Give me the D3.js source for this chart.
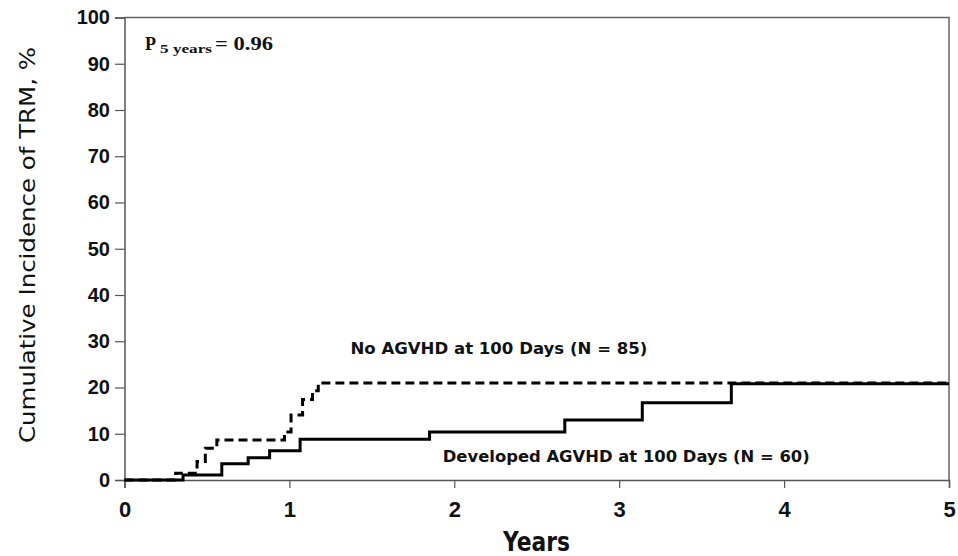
<!DOCTYPE html>
<html>
<head>
<meta charset="utf-8">
<style>
  body { margin: 0; background: #fff; }
  text { fill: #111; }
</style>
<title>Cumulative Incidence of TRM</title>
</head>
<body>
<script src="https://cdn.jsdelivr.net/npm/d3@7/dist/d3.min.js"></script>
<script>
  // data (years, %)
  var noTimes = [0, 0.31, 0.44, 0.49, 0.56, 0.97, 1.01, 1.08, 1.14, 1.175, 5];
  var noVals  = [0, 1.45, 4.0, 6.85, 8.65, 10.4, 14.05, 17.4, 19.3, 21.0, 21.0];

  var devTimes = [0, 0.355, 0.59, 0.75, 0.88, 1.065, 1.85, 2.67, 3.14, 3.68, 5];
  var devVals  = [0, 1.1, 3.5, 4.8, 6.3, 8.8, 10.4, 13.0, 16.7, 20.8, 20.8];

  var xTicks = [0, 1, 2, 3, 4, 5];
  var yTicks = [0, 10, 20, 30, 40, 50, 60, 70, 80, 90, 100];

  var margin = {top: 17.5, right: 9, bottom: 76, left: 124.5};
  var W = 958, H = 556;
  var width = W - margin.left - margin.right,
      height = H - margin.top - margin.bottom;

  var x = d3.scaleLinear().domain([0, 5]).range([0, width]);
  var y = d3.scaleLinear().domain([0, 100]).range([height, 0]);

  var svg = d3.select("body").append("svg")
      .attr("width", W).attr("height", H)
      .style("font-family", "'DejaVu Sans', Verdana, sans-serif");

  var g = svg.append("g")
      .attr("transform", "translate(" + margin.left + "," + margin.top + ")");

  // frame (top and right)
  g.append("path")
      .attr("d", "M0,0H" + width + "V" + height)
      .attr("fill", "none").attr("stroke", "#666").attr("stroke-width", 1.5);

  // x axis
  var xAx = g.append("g")
      .attr("transform", "translate(0," + height + ")")
      .call(d3.axisBottom(x).tickValues(xTicks).tickSize(8).tickPadding(13).tickFormat(d3.format("d")));
  xAx.select(".domain").attr("stroke", "#555").attr("stroke-width", 1.5);
  xAx.selectAll(".tick line").attr("stroke", "#555").attr("stroke-width", 1.2);
  xAx.selectAll("text")
      .style("font-size", "22px").style("font-weight", "bold").attr("fill", "#111");

  // y axis
  var yAx = g.append("g")
      .call(d3.axisLeft(y).tickValues(yTicks).tickSize(9.5).tickPadding(5));
  yAx.select(".domain").attr("stroke", "#555").attr("stroke-width", 1.5);
  yAx.selectAll(".tick line").attr("stroke", "#555").attr("stroke-width", 1.2);
  yAx.selectAll("text")
      .style("font-size", "20px").style("font-weight", "bold").attr("fill", "#111");

  // curves
  var line = d3.line()
      .x(function(d) { return x(d[0]); })
      .y(function(d) { return y(d[1]); })
      .curve(d3.curveStepAfter);

  g.append("path")
      .datum(d3.zip(noTimes, noVals))
      .attr("d", line)
      .attr("fill", "none").attr("stroke", "#000")
      .attr("stroke-width", 3).attr("stroke-dasharray", "9,5");

  g.append("path")
      .datum(d3.zip(devTimes, devVals))
      .attr("d", line)
      .attr("fill", "none").attr("stroke", "#000")
      .attr("stroke-width", 3);

  // curve labels
  g.append("text")
      .attr("x", x(1.37)).attr("y", y(27.3))
      .attr("textLength", 297).attr("lengthAdjust", "spacingAndGlyphs")
      .style("font-size", "15px").style("font-weight", "bold")
      .text("No AGVHD at 100 Days (N = 85)");

  g.append("text")
      .attr("x", x(1.93)).attr("y", y(4.0))
      .attr("textLength", 367).attr("lengthAdjust", "spacingAndGlyphs")
      .style("font-size", "15px").style("font-weight", "bold")
      .text("Developed AGVHD at 100 Days (N = 60)");

  // p value
  var serif = "'Liberation Serif', 'Times New Roman', serif";
  g.append("text")
      .attr("x", 20.5).attr("y", 32.5)
      .style("font-family", serif).style("font-weight", "bold").style("font-size", "18px")
      .text("P");
  g.append("text")
      .attr("x", 35.5).attr("y", 35.5)
      .attr("textLength", 52).attr("lengthAdjust", "spacingAndGlyphs")
      .style("font-family", serif).style("font-weight", "bold").style("font-size", "13px")
      .text("5 years");
  g.append("text")
      .attr("x", 90.5).attr("y", 32.5)
      .attr("textLength", 58).attr("lengthAdjust", "spacingAndGlyphs")
      .style("font-family", serif).style("font-weight", "bold").style("font-size", "19px")
      .text("= 0.96");

  // axis titles
  svg.append("text")
      .attr("x", 536.5).attr("y", 551)
      .attr("text-anchor", "middle")
      .attr("textLength", 67).attr("lengthAdjust", "spacingAndGlyphs")
      .style("font-size", "26px").style("font-weight", "bold")
      .text("Years");

  svg.append("text")
      .attr("transform", "translate(35," + 245 + ") rotate(-90)")
      .attr("text-anchor", "middle")
      .attr("textLength", 396).attr("lengthAdjust", "spacingAndGlyphs")
      .style("font-size", "22px")
      .text("Cumulative Incidence of TRM, %");
</script>
</body>
</html>
